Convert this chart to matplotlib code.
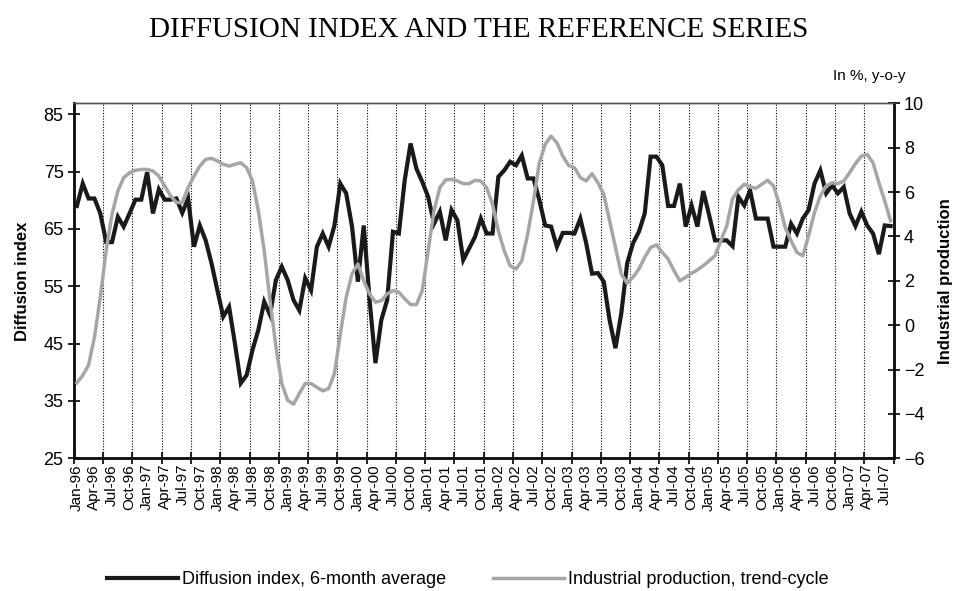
import numpy as np
import matplotlib
matplotlib.use("Agg")
import matplotlib.pyplot as plt

plt.rcParams['font.family'] = ['Liberation Sans', 'DejaVu Sans']

# monthly values, Jan-96 .. Aug-07
diffusion = [69.0, 72.9, 70.3, 70.3, 67.7, 62.7, 62.7, 67.1, 65.4, 67.7,
             70.1, 70.1, 74.9, 67.7, 71.9, 70.1, 70.1, 70.3, 67.8, 70.3,
             61.9, 65.6, 63.0, 59.0, 54.3, 49.7, 51.4, 45.0, 38.1, 39.5,
             43.9, 47.4, 52.3, 50.0, 56.1, 58.4, 56.1, 52.6, 50.8, 56.4,
             54.3, 61.9, 64.2, 61.9, 65.6, 72.9, 71.2, 65.4, 55.8, 65.6,
             52.6, 41.6, 49.1, 52.6, 64.5, 64.2, 73.5, 79.9, 75.5, 73.2,
             70.6, 65.9, 68.0, 63.0, 68.3, 66.5, 59.6, 61.6, 63.6, 66.8,
             64.2, 64.2, 74.1, 75.2, 76.7, 76.1, 77.8, 73.8, 73.8, 70.0,
             65.6, 65.4, 61.9, 64.3, 64.3, 64.2, 66.8, 62.5, 57.2, 57.3,
             55.8, 49.1, 44.2, 50.3, 59.0, 62.5, 64.5, 67.7, 77.6, 77.6,
             76.1, 69.0, 69.0, 72.9, 65.4, 69.1, 65.4, 71.6, 67.4, 63.0,
             63.0, 63.0, 62.0, 70.6, 69.1, 71.7, 66.8, 66.8, 66.8, 61.9,
             61.9, 61.9, 65.9, 64.2, 66.8, 68.3, 72.9, 75.2, 71.2, 72.6,
             71.2, 72.3, 67.7, 65.5, 68.0, 65.6, 64.2, 60.6, 65.6, 65.5]

industrial = [-2.6, -2.26, -1.8, -0.54, 1.26, 3.36, 5.0, 6.05, 6.65, 6.87,
              6.98, 7.02, 7.02, 6.95, 6.72, 6.28, 5.83, 5.53, 5.53, 6.2,
              6.72, 7.17, 7.47, 7.52, 7.4, 7.25, 7.17, 7.25, 7.32, 7.1,
              6.5, 5.15, 3.36, 1.1, -0.98, -2.63, -3.38, -3.56, -3.08, -2.63,
              -2.63, -2.8, -2.96, -2.86, -2.18, -0.39, 1.26, 2.31, 2.76, 2.0,
              1.41, 1.04, 1.1, 1.41, 1.56, 1.49, 1.19, 0.93, 0.93, 1.56,
              3.36, 5.15, 6.2, 6.55, 6.57, 6.5, 6.38, 6.38, 6.53, 6.5,
              6.2, 5.45, 4.25, 3.36, 2.68, 2.53, 2.9, 4.1, 5.6, 7.32,
              8.15, 8.52, 8.22, 7.62, 7.2, 7.1, 6.65, 6.5, 6.83, 6.42,
              5.9, 4.7, 3.5, 2.31, 1.89, 2.16, 2.53, 3.06, 3.5, 3.62,
              3.28, 2.98, 2.46, 2.0, 2.16, 2.34, 2.49, 2.68, 2.9, 3.13,
              3.8, 4.47, 5.7, 6.1, 6.35, 6.23, 6.17, 6.35, 6.53, 6.28,
              5.45, 4.4, 3.8, 3.28, 3.13, 4.04, 5.08, 5.83, 6.28, 6.42,
              6.38, 6.5, 6.87, 7.28, 7.62, 7.7, 7.32, 6.42, 5.6, 4.7]

# quarterly labels, every 3rd month
tick_labels = ['Jan-96', 'Apr-96', 'Jul-96', 'Oct-96', 'Jan-97', 'Apr-97', 'Jul-97', 'Oct-97',
               'Jan-98', 'Apr-98', 'Jul-98', 'Oct-98', 'Jan-99', 'Apr-99', 'Jul-99', 'Oct-99',
               'Jan-00', 'Apr-00', 'Jul-00', 'Oct-00', 'Jan-01', 'Apr-01', 'Jul-01', 'Oct-01',
               'Jan-02', 'Apr-02', 'Jul-02', 'Oct-02', 'Jan-03', 'Apr-03', 'Jul-03', 'Oct-03',
               'Jan-04', 'Apr-04', 'Jul-04', 'Oct-04', 'Jan-05', 'Apr-05', 'Jul-05', 'Oct-05',
               'Jan-06', 'Apr-06', 'Jul-06', 'Oct-06', 'Jan-07', 'Apr-07', 'Jul-07']

n = len(diffusion)
x = np.arange(n)

fig = plt.figure(figsize=(9.58, 5.91), dpi=100)
ax = fig.add_axes([0.0772, 0.2245, 0.8555, 0.6007])
ax2 = ax.twinx()

# dotted separators every 5 months (category boundaries)
for b in np.arange(4.5, n - 1, 5):
    ax.axvline(b, color='black', lw=0.8, ls=(0, (1, 1.5)), zorder=1)

l1, = ax.plot(x, diffusion, color='#1a1a1a', lw=3.0, solid_joinstyle='miter',
              label='Diffusion index, 6-month average', zorder=3)
l2, = ax2.plot(x, industrial, color='#a6a6a6', lw=2.5,
               label='Industrial production, trend-cycle', zorder=3)

ax.set_xlim(-0.5, n - 0.5)
ax.set_ylim(25, 86.9)
ax.set_yticks(range(25, 86, 10))
ax2.set_ylim(-6, 10)
ax2.set_yticks(range(-6, 11, 2))

ax.set_xticks(np.arange(0, n, 3))
ax.set_xticklabels(tick_labels, rotation=90, fontsize=11)
ax.tick_params(axis='x', length=0, pad=4)
ax.set_xticks(np.arange(-0.5, n, 5), minor=True)
ax.tick_params(axis='x', which='minor', direction='inout', length=9, width=1.2)

ax.tick_params(axis='y', direction='inout', length=9, width=1.2, labelsize=13, pad=3)
ax2.tick_params(axis='y', direction='inout', length=9, width=1.2, labelsize=13, pad=3)

for a in (ax, ax2):
    for s in ('left', 'right', 'bottom'):
        a.spines[s].set_linewidth(1.8)
        a.spines[s].set_color('#111111')
    a.spines['top'].set_linewidth(1.0)
    a.spines['top'].set_color('#555555')

ax.set_ylabel('Diffusion index', fontsize=12, fontweight='bold', labelpad=10)
ax2.set_ylabel('Industrial production', fontsize=12, fontweight='bold', labelpad=10)

fig.text(0.5, 0.949, 'DIFFUSION INDEX AND THE REFERENCE SERIES',
         family='Liberation Serif', fontsize=21, ha='center', va='center')
fig.text(0.945, 0.871, 'In %, y-o-y', fontsize=11, ha='right', va='center')

fig.legend(handles=[l1, l2], loc='center', bbox_to_anchor=(0.4885, 0.019),
           ncol=2, frameon=False, fontsize=13, handlelength=3.9,
           handletextpad=0.25, columnspacing=2.6)

fig.savefig('out.png', dpi=100)
